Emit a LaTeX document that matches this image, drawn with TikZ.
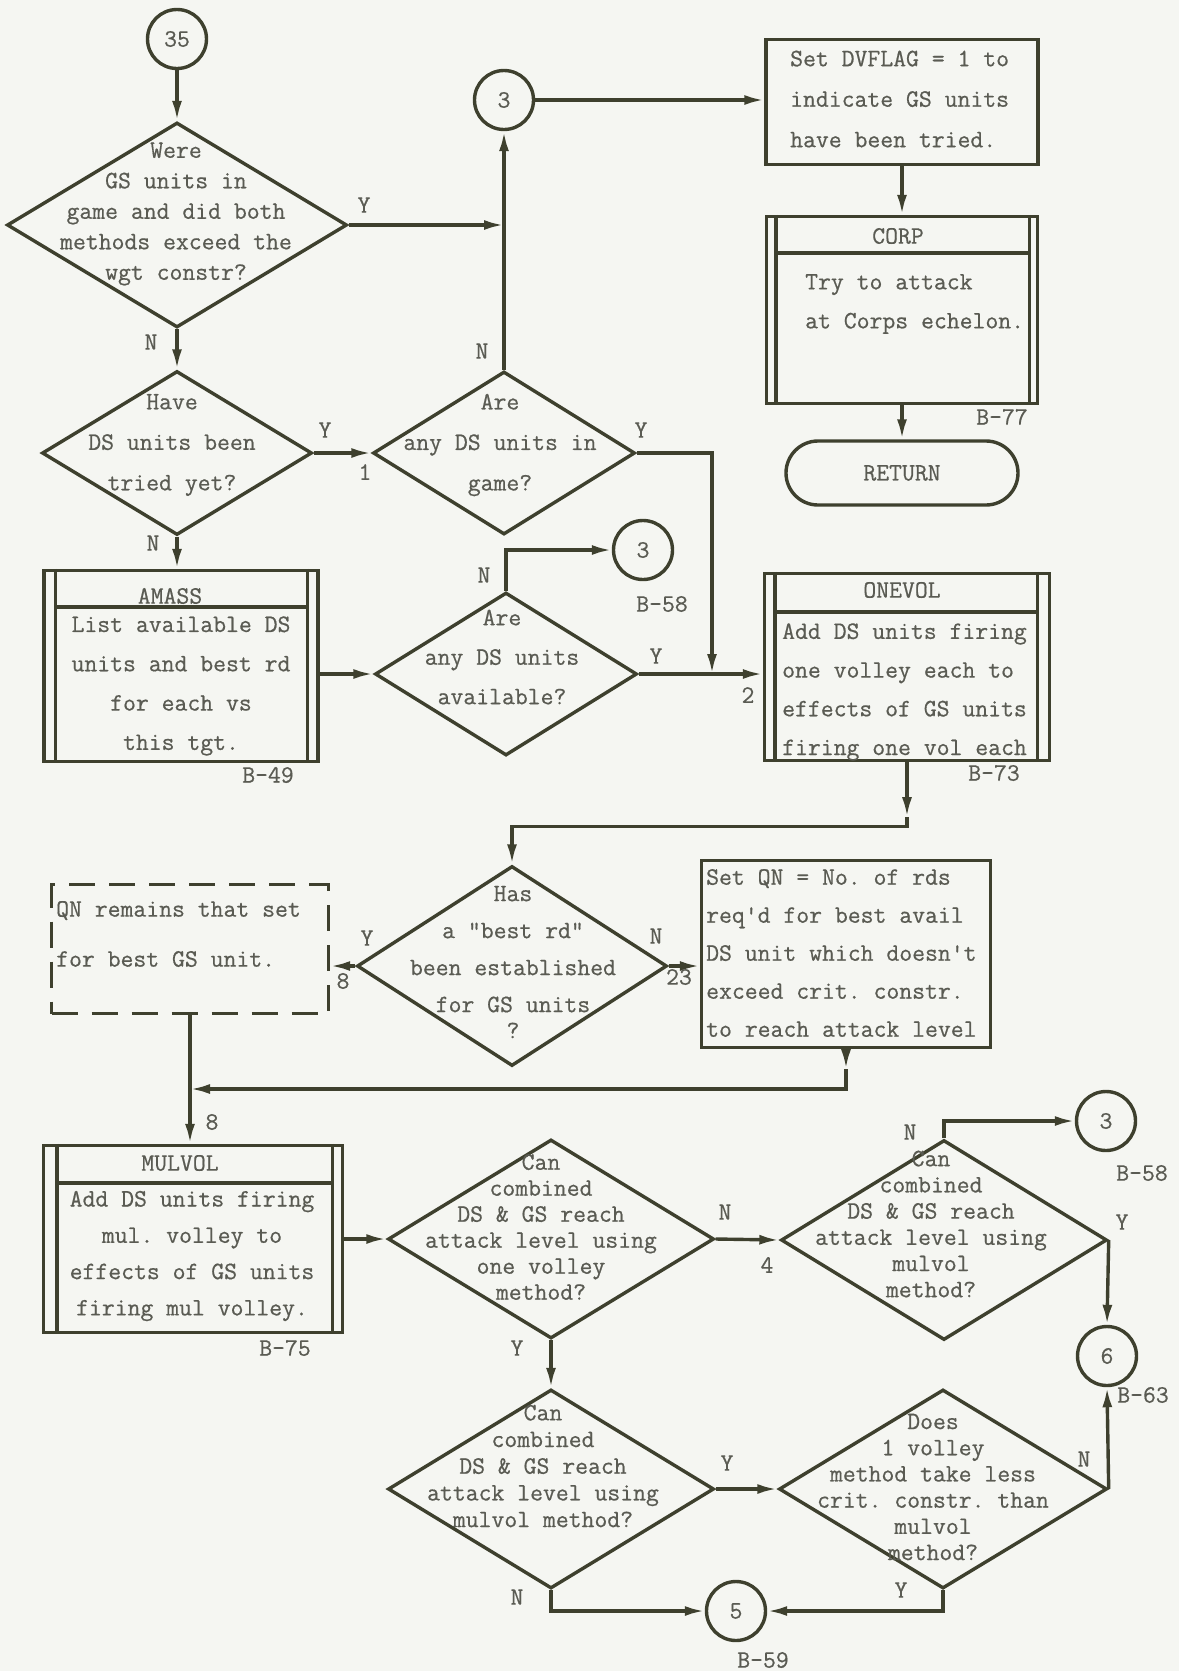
\documentclass[tikz,border=0pt]{standalone}
\usepackage{fontspec}
\setmonofont[FakeBold=0.6]{Latin Modern Mono}
\usetikzlibrary{shapes.geometric,shapes.misc,arrows.meta}
\definecolor{bgC}{HTML}{F5F6F2}
\definecolor{lineC}{HTML}{3E402E}
\definecolor{textC}{HTML}{5A5B53}
\begin{document}
\begin{tikzpicture}[x=1pt,y=-1pt,
  ln/.style={draw=lineC,line width=3.4pt},
  arr/.style={ln,-{Latex[length=20pt,width=10pt]}},
  txt/.style={text=textC,inner sep=0pt,font=\ttfamily\fontsize{25pt}{#1}\selectfont},
  txt/.default=40pt,
  dec/.style={diamond,ln,inner sep=0pt},
  conn/.style={circle,ln,minimum size=59pt,inner sep=0pt,txt},
  box/.style={rectangle,ln,inner sep=0pt},
  dbox/.style={rectangle,ln,inner sep=0pt,dash pattern=on 26pt off 14pt},
]
\fill[bgC] (0,0) rectangle (1179,1671);
\useasboundingbox (0,0) rectangle (1179,1671);

% ---------- shapes ----------
\node[conn] (c35) at (177,39) {35};
\node[dec,minimum width=340pt,minimum height=205pt] (d1) at (177,225) {};
\node[dec,minimum width=270pt,minimum height=164pt] (d2) at (177,453) {};
\node[dec,minimum width=262pt,minimum height=163pt] (d3) at (504,453) {};
\node[conn] (c3a) at (504,100) {3};

\node[box,minimum width=272pt,minimum height=125pt] (b1) at (902,102) {};
\node[box,minimum width=271pt,minimum height=187pt] (corp) at (902,310) {};
\draw[ln] ([xshift=11pt]corp.north west) -- ([xshift=11pt]corp.south west);
\draw[ln] ([xshift=-10pt]corp.north east) -- ([xshift=-10pt]corp.south east);
\draw[ln] ([xshift=11pt,yshift=-38pt]corp.north west) -- ([xshift=-10pt,yshift=-38pt]corp.north east);
\node[rounded rectangle,ln,txt,minimum width=232pt,minimum height=64pt] (ret) at (902,473) {RETURN};

\node[box,minimum width=274pt,minimum height=191pt] (amass) at (181,666) {};
\draw[ln] ([xshift=13pt]amass.north west) -- ([xshift=13pt]amass.south west);
\draw[ln] ([xshift=-12pt]amass.north east) -- ([xshift=-12pt]amass.south east);
\draw[ln] ([xshift=13pt,yshift=-38pt]amass.north west) -- ([xshift=-12pt,yshift=-38pt]amass.north east);

\node[dec,minimum width=262pt,minimum height=163pt] (d4) at (506,674) {};
\node[conn] (c3b) at (643,550) {3};

\node[box,minimum width=285pt,minimum height=187pt] (onevol) at (907,667) {};
\draw[ln] ([xshift=12pt]onevol.north west) -- ([xshift=12pt]onevol.south west);
\draw[ln] ([xshift=-14pt]onevol.north east) -- ([xshift=-14pt]onevol.south east);
\draw[ln] ([xshift=12pt,yshift=-40pt]onevol.north west) -- ([xshift=-14pt,yshift=-40pt]onevol.north east);

\node[dec,minimum width=310pt,minimum height=200pt] (d5) at (512,966) {};
\node[dbox,minimum width=277pt,minimum height=129pt] (qn1) at (190,949) {};
\node[box,minimum width=289pt,minimum height=187pt] (b2) at (846,954) {};

\node[box,minimum width=299pt,minimum height=187pt] (mulvol) at (193,1239) {};
\draw[ln] ([xshift=15pt]mulvol.north west) -- ([xshift=15pt]mulvol.south west);
\draw[ln] ([xshift=-12pt]mulvol.north east) -- ([xshift=-12pt]mulvol.south east);
\draw[ln] ([xshift=15pt,yshift=-39pt]mulvol.north west) -- ([xshift=-12pt,yshift=-39pt]mulvol.north east);

\node[dec,minimum width=326pt,minimum height=199pt] (d6) at (551,1239) {};
\node[dec,minimum width=326pt,minimum height=200pt] (d8) at (944,1240) {};
\node[conn] (c3c) at (1106,1121) {3};
\node[conn] (c6) at (1107,1356) {6};
\node[dec,minimum width=326pt,minimum height=199pt] (d7) at (551,1489) {};
\node[dec,minimum width=328pt,minimum height=199pt] (d9) at (943,1489) {};
\node[conn] (c5) at (736,1611) {5};

% ---------- texts ----------
\node[txt=30.5pt,align=center] (d1t) at (176,214) {Were\\GS units in\\game and did both\\methods exceed the\\wgt constr?};
\node[txt=40.5pt,align=center] (d2t) at (172,445) {Have\\DS units been\\tried yet?};
\node[txt=40.5pt,align=center] (d3t) at (500,445) {Are\\any DS units in\\game?};
\node[txt=40.5pt,align=left,anchor=west] (b1t) at (790,99) {Set DVFLAG = 1 to\\indicate GS units\\have been tried.};
\node[txt] (corpn) at (898,236) {CORP};
\node[txt=39pt,align=left,anchor=west] (corpt) at (805,304) {Try to attack\\at Corps echelon.};
\node[txt] (amassn) at (170,596) {AMASS};
\node[txt=39.3pt,align=center] (amasst) at (181,686) {List available DS\\units and best rd\\for each vs\\this tgt.};
\node[txt=39.5pt,align=center] (d4t) at (502,657) {Are\\any DS units\\available?};
\node[txt] (onevoln) at (902,590) {ONEVOL};
\node[txt=38.7pt,align=left,anchor=west] (onevolt) at (782,692) {Add DS units firing\\one volley each to\\effects of GS units\\firing one vol each};
\node[txt=37pt,align=center] (d5t) at (513,962) {Has\\a "best rd"\\been established\\for GS units\\[-11pt]?};
\node[txt=50pt,align=left,anchor=west] (qn1t) at (56,934) {QN remains that set\\for best GS unit.};
\node[txt=38pt,align=left,anchor=west] (b2t) at (706,953) {Set QN = No. of rds\\req'd for best avail\\DS unit which doesn't\\exceed crit. constr.\\to reach attack level};
\node[txt] (mulvoln) at (180,1163) {MULVOL};
\node[txt=36.3pt,align=center] (mulvolt) at (192,1256) {Add DS units firing\\mul. volley to\\effects of GS units\\firing mul volley.};
\node[txt=26pt,align=center] (d6t) at (541,1227) {Can\\combined\\DS \& GS reach\\attack level using\\one volley\\method?};
\node[txt=26.2pt,align=center] (d8t) at (931,1224) {Can\\combined\\DS \& GS reach\\attack level using\\mulvol\\method?};
\node[txt=26.7pt,align=center] (d7t) at (543,1466) {Can\\combined\\DS \& GS reach\\attack level using\\mulvol method?};
\node[txt=26.2pt,align=center] (d9t) at (933,1487) {Does\\1 volley\\method take less\\crit. constr. than\\mulvol\\method?};

% page references
\node[txt] (l77) at (1002,417) {B-77};
\node[txt] (l49) at (268,775) {B-49};
\node[txt] (l58a) at (662,604) {B-58};
\node[txt] (l73) at (994,773) {B-73};
\node[txt] (l75) at (285,1348) {B-75};
\node[txt] (l58b) at (1142,1173) {B-58};
\node[txt] (l63) at (1143,1395) {B-63};
\node[txt] (l59) at (763,1660) {B-59};

% ---------- connectors ----------
\coordinate (j1) at (d3.north |- d1.east);
\coordinate (j3) at (712,674);
\coordinate (k1) at ([yshift=-55pt]onevol.south);
\coordinate (k3) at ([yshift=-20pt]b2.south);
\coordinate (j2) at (190,1089);

\draw[arr] (c35) -- (d1.north);
\draw[arr] (d1.south) -- (d2.north);
\draw[arr] (d1.east) -- (j1);
\draw[arr] (d3.north) -- (c3a.south);
\draw[arr] (c3a.east) -- (c3a.east -| b1.west);
\draw[arr] (b1.south) -- (corp.north);
\draw[arr] (corp.south) -- (ret.north);
\draw[arr] (d2.east) -- (d3.west);
\draw[arr] (d3.east) -| (j3);
\draw[arr] (d2.south) -- (d2.south |- amass.north);
\draw[arr] (amass.east |- d4.west) -- (d4.west);
\draw[arr] (d4.north) |- (c3b.west);
\draw[arr] (d4.east) -- (d4.east -| onevol.west);
\draw[arr] (onevol.south) -- (k1);
\draw[arr] (k1) -- ++(0,9) -| (d5.north);
\draw[arr] (d5.west) -- (d5.west -| qn1.east);
\draw[arr] (d5.east) -- (d5.east -| b2.west);
\draw[arr] (b2.south) -- (k3);
\draw[arr] (k3) |- (j2);
\draw[ln] (qn1.south) -- (j2);
\draw[arr] (j2) -- (j2 |- mulvol.north);
\draw[arr] (mulvol.east |- d6.west) -- (d6.west);
\draw[arr] (d6.east) -- (d8.west);
\draw[arr] (d8.north) |- (c3c.west);
\draw[arr] (d8.east) -- (c6.north);
\draw[arr] (d6.south) -- (d7.north);
\draw[arr] (d7.east) -- (d9.west);
\draw[arr] (d9.east) -- (c6.south);
\draw[arr] (d9.south) |- (c5.east);
\draw[arr] (d7.south) |- (c5.west);

% branch labels
\node[txt] (y1) at (364,205) {Y};
\node[txt] (n1) at (151,342) {N};
\node[txt] (y2) at (325,430) {Y};
\node[txt] (o1) at (365,472) {1};
\node[txt] (n3) at (482,351) {N};
\node[txt] (y3) at (641,430) {Y};
\node[txt] (n2) at (153,543) {N};
\node[txt] (n4) at (484,575) {N};
\node[txt] (y4) at (656,656) {Y};
\node[txt] (o2) at (748,695) {2};
\node[txt] (y5) at (367,938) {Y};
\node[txt] (o8a) at (343,981) {8};
\node[txt] (n5) at (656,936) {N};
\node[txt] (o23) at (679,977) {23};
\node[txt] (o8b) at (212,1122) {8};
\node[txt] (n6) at (725,1212) {N};
\node[txt] (o4) at (767,1265) {4};
\node[txt] (n8) at (910,1132) {N};
\node[txt] (y8) at (1122,1222) {Y};
\node[txt] (y6) at (517,1348) {Y};
\node[txt] (y7) at (727,1463) {Y};
\node[txt] (n9) at (1084,1459) {N};
\node[txt] (y9) at (901,1590) {Y};
\node[txt] (n7) at (517,1597) {N};
\end{tikzpicture}
\end{document}
